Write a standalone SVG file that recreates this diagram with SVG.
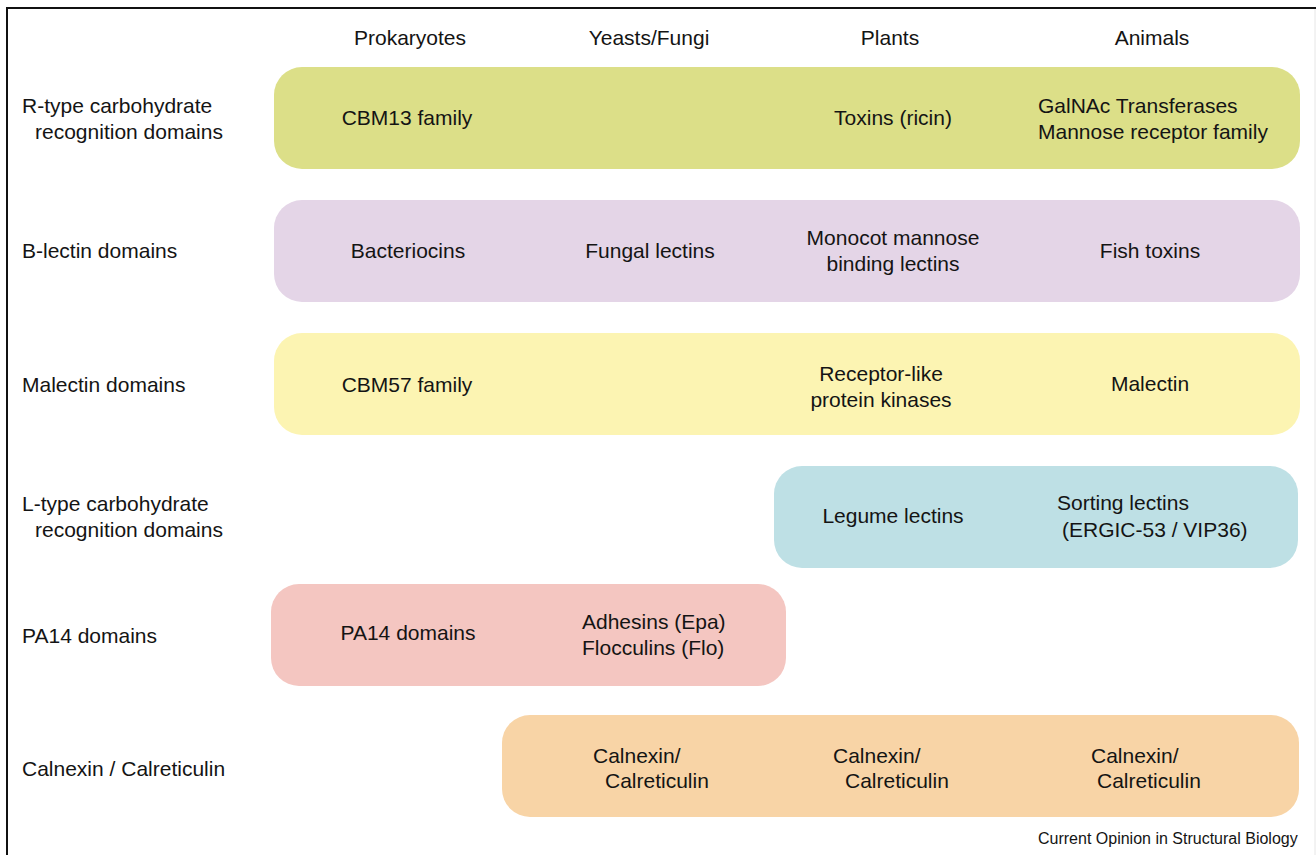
<svg xmlns="http://www.w3.org/2000/svg" width="1316" height="855" viewBox="0 0 1316 855">
<style>
text{font-family:"Liberation Sans",Arial,sans-serif;font-size:21px;fill:#141414}
.c{text-anchor:middle}
.box{stroke:none}
.foot{font-size:16px}
</style>
<rect x="0" y="0" width="1316" height="855" fill="#ffffff"/>
<path d="M7,855 V8 H1316" fill="none" stroke="#111" stroke-width="2"/>
<line x1="1315" y1="9" x2="1315" y2="855" stroke="#e6e6e6" stroke-width="1"/>
<g id="headers">
<text class="c" x="410" y="45">Prokaryotes</text>
<text class="c" x="649" y="45">Yeasts/Fungi</text>
<text class="c" x="890" y="45">Plants</text>
<text class="c" x="1152" y="45">Animals</text>
</g>
<g id="row-labels">
<text x="22" y="113">R-type carbohydrate</text>
<text x="35" y="139">recognition domains</text>
<text x="22" y="258">B-lectin domains</text>
<text x="22" y="392">Malectin domains</text>
<text x="22" y="511">L-type carbohydrate</text>
<text x="35" y="537">recognition domains</text>
<text x="22" y="643">PA14 domains</text>
<text x="22" y="776">Calnexin / Calreticulin</text>
</g>
<g id="rtype">
<rect class="box" x="274" y="67" width="1026" height="102" rx="28" fill="#dcdf88"/>
<text class="c" x="407" y="125">CBM13 family</text>
<text class="c" x="893" y="125">Toxins (ricin)</text>
<text x="1038" y="113">GalNAc Transferases</text>
<text x="1038" y="139">Mannose receptor family</text>
</g>
<g id="blectin">
<rect class="box" x="274" y="200" width="1026" height="102" rx="28" fill="#e4d5e7"/>
<text class="c" x="408" y="258">Bacteriocins</text>
<text class="c" x="650" y="258">Fungal lectins</text>
<text class="c" x="893" y="245">Monocot mannose</text>
<text class="c" x="893" y="271">binding lectins</text>
<text class="c" x="1150" y="258">Fish toxins</text>
</g>
<g id="malectin">
<rect class="box" x="274" y="333" width="1026" height="102" rx="28" fill="#fcf4b2"/>
<text class="c" x="407" y="392">CBM57 family</text>
<text class="c" x="881" y="381">Receptor-like</text>
<text class="c" x="881" y="407">protein kinases</text>
<text class="c" x="1150" y="391">Malectin</text>
</g>
<g id="ltype">
<rect class="box" x="774" y="466" width="524" height="102" rx="28" fill="#bee0e5"/>
<text class="c" x="893" y="523">Legume lectins</text>
<text x="1057" y="510">Sorting lectins</text>
<text x="1062" y="537">(ERGIC-53 / VIP36)</text>
</g>
<g id="pa14">
<rect class="box" x="271" y="584" width="515" height="102" rx="28" fill="#f4c6c1"/>
<text class="c" x="408" y="640">PA14 domains</text>
<text x="582" y="629">Adhesins (Epa)</text>
<text x="582" y="655">Flocculins (Flo)</text>
</g>
<g id="calnexin">
<rect class="box" x="502" y="715" width="797" height="102" rx="28" fill="#f8d4a6"/>
<text x="593" y="763">Calnexin/</text>
<text x="605" y="788">Calreticulin</text>
<text x="833" y="763">Calnexin/</text>
<text x="845" y="788">Calreticulin</text>
<text x="1091" y="763">Calnexin/</text>
<text x="1097" y="788">Calreticulin</text>
</g>
<g id="connectors"></g>
<text class="foot" x="1038" y="844">Current Opinion in Structural Biology</text>
</svg>
